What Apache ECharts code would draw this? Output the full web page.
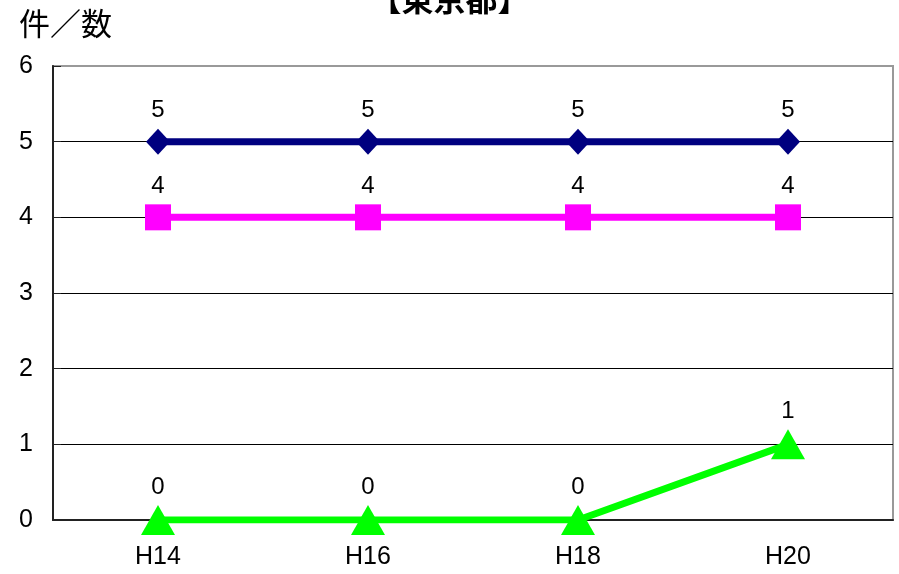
<!DOCTYPE html>
<html><head><meta charset="utf-8">
<script src="https://cdn.jsdelivr.net/npm/echarts@6/dist/echarts.min.js"></script>
<style>html,body{margin:0;padding:0;background:#fff}#c{width:899px;height:574px}</style>
</head><body><div id="c"></div>
<script>
var categories = ['H14', 'H16', 'H18', 'H20'];
var seriesA = [5, 5, 5, 5];
var seriesB = [4, 4, 4, 4];
var seriesC = [0, 0, 0, 1];
var yTicks = [0, 1, 2, 3, 4, 5, 6];

var chart = echarts.init(document.getElementById('c'));
var font = '"Liberation Sans", Arial, sans-serif';
function mk(name, data, color, symbol, size) {
  return {
    name: name, type: 'line', data: data,
    symbol: symbol, symbolSize: size,
    lineStyle: { color: color, width: 7 },
    itemStyle: { color: color },
    label: { show: true, position: 'top', distance: 6, color: '#000', fontSize: 24, fontFamily: font },
    animation: false
  };
}
chart.setOption({
  animation: false,
  title: {
    text: '【東京都】', left: 'center', top: -22,
    textStyle: { fontSize: 32, fontWeight: 'bold', color: '#000', fontFamily: '"Noto Sans CJK JP", sans-serif' }
  },
  graphic: [{
    type: 'text', left: 19, top: 8,
    style: { text: '件／数', fill: '#000', font: '31px "Noto Sans CJK JP", sans-serif' }
  }],
  grid: { left: 53, top: 66, right: 6, bottom: 54, show: true, borderColor: '#999', borderWidth: 2 },
  xAxis: {
    type: 'category', data: categories, boundaryGap: true,
    axisLine: { lineStyle: { color: '#222', width: 2 } },
    axisTick: { inside: true, length: 6, lineStyle: { color: '#555', width: 2 } },
    axisLabel: { color: '#000', fontSize: 25, fontFamily: font, margin: 25 }
  },
  yAxis: {
    type: 'value', min: yTicks[0], max: yTicks[yTicks.length - 1], interval: 1,
    axisLine: { show: true, lineStyle: { color: '#222', width: 2 } },
    axisTick: { show: true, inside: true, length: 8, lineStyle: { color: '#222' } },
    axisLabel: { color: '#000', fontSize: 25, fontFamily: font, margin: 20 },
    splitLine: { lineStyle: { color: ['#000', '#000', '#000', '#000', '#000', '#000', '#999'], width: 1 } }
  },
  series: [
    mk('系列1', seriesA, '#000080', 'diamond', [24, 26]),
    mk('系列2', seriesB, '#FF00FF', 'rect', 26),
    mk('系列3', seriesC, '#00FF00', 'triangle', [34, 30])
  ]
});
</script></body></html>
